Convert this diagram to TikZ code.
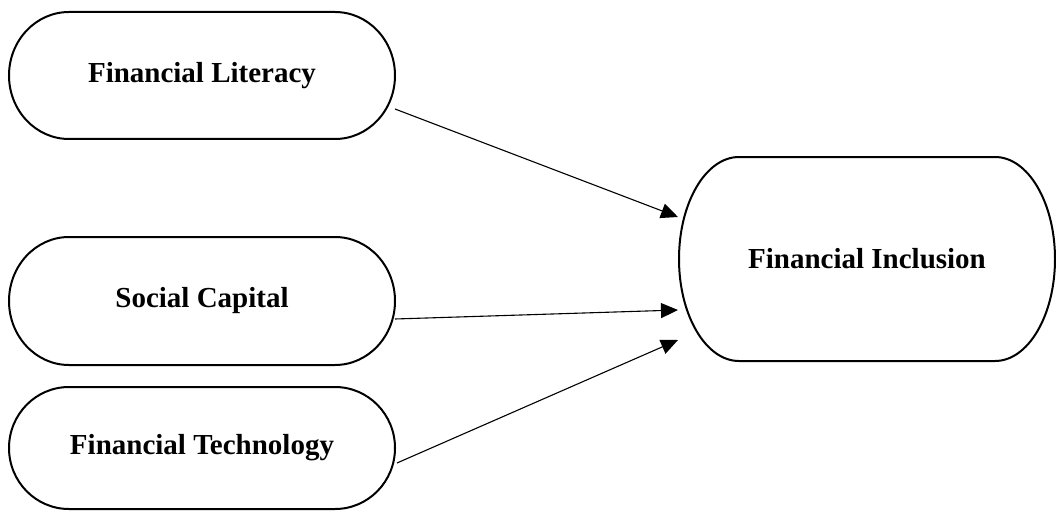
\documentclass[tikz,border=0pt]{standalone}
\usepackage{fontspec}
\setmainfont{Liberation Serif}
\usetikzlibrary{calc,arrows.meta}

% half width of the rounded ends
\def\capr{30pt}

% outline with elliptical ends round a named node
\newcommand{\capsule}[1]{%
  \draw[capline] let \p1 = ($(#1.north east)-(#1.south west)$) in
    ([xshift=\capr]#1.north west) -- ([xshift=-\capr]#1.north east)
    arc[start angle=90, end angle=-90, x radius=\capr, y radius=0.5*\y1]
    -- ([xshift=\capr]#1.south west)
    arc[start angle=270, end angle=90, x radius=\capr, y radius=0.5*\y1] -- cycle;}

\tikzset{
  varbox/.style={draw=none, outer sep=0pt, inner sep=0pt,
    font=\bfseries\fontsize{14.5}{17}\selectfont},
  capline/.style={line width=1pt, black},
  link/.style={line width=0.55pt, -{Triangle[length=8.5pt,width=7.5pt]}}
}

\begin{document}
\begin{tikzpicture}[x=0.5pt, y=0.5pt]
    \useasboundingbox (0,0) rectangle (1056,510);

    % Define the variables
    \node[varbox, minimum width=193pt, minimum height=63.5pt] (lit) at (202,434.5) {Financial Literacy};
    \node[varbox, minimum width=193pt, minimum height=64pt] (soc) at (202,209) {Social Capital};
    \node[varbox, minimum width=193pt, minimum height=61pt] (tech) at (202,62) {Financial Technology};
    \node[varbox, minimum width=188pt, minimum height=102pt] (incl) at (867,251) {Financial Inclusion};

    % Draw the outlines
    \capsule{lit}
    \capsule{soc}
    \capsule{tech}
    \capsule{incl}

    % Paths to financial inclusion
    \draw[link] ($(lit.east)+(0,-33.5)$) -- ($(incl.west)+(-1,42)$);
    \draw[link] ($(soc.east)+(0,-18)$) -- ($(incl.west)+(-1,-51)$);
    \draw[link] ($(tech.east)+(2,-15)$) -- ($(incl.west)+(-1,-81)$);
\end{tikzpicture}
\end{document}
